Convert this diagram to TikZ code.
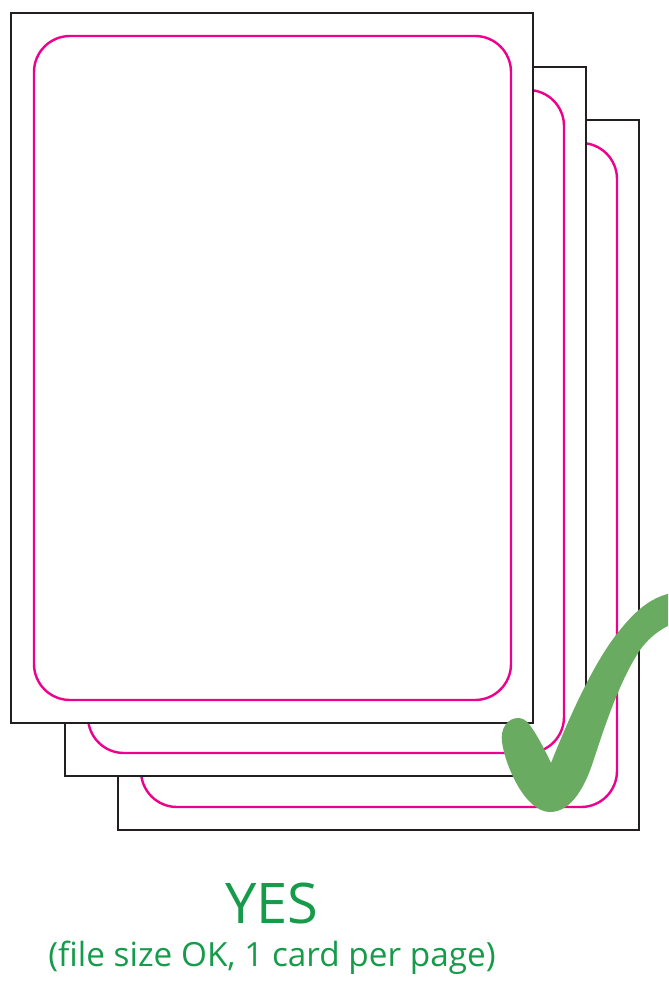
\documentclass[tikz,border=0pt]{standalone}
\usepackage{fontspec}
\setmainfont{Open Sans}
\definecolor{cardblack}{RGB}{35,31,32}
\definecolor{cardpink}{RGB}{236,0,140}
\definecolor{checkgreen}{RGB}{105,172,97}
\definecolor{textgreen}{RGB}{22,155,75}
\begin{document}
\begin{tikzpicture}[x=0.75pt,y=-0.75pt,
  outercard/.style={draw=cardblack,fill=white,line width=1.9pt},
  innercard/.style={draw=cardpink,line width=1.8pt,rounded corners=27pt},
  yestext/.style={text=textgreen,inner sep=0pt,anchor=base}]
\useasboundingbox (0,0) rectangle (668,985);
\begin{scope}
\clip (0,0) rectangle (668,985);
% back card
\draw[outercard] (118,120) rectangle (639,830);
\draw[innercard] (141,143) rectangle (617,807);
% middle card
\draw[outercard] (65,67) rectangle (586,776);
\draw[innercard] (88,90) rectangle (564,753);
% front card
\draw[outercard] (11,13) rectangle (533,723);
\draw[innercard] (34,36) rectangle (511,700);
% check mark
\fill[checkgreen] (518,718) .. controls (508,718) and (500,728) .. (502,742)
  .. controls (505,765) and (525,812) .. (550,812)
  .. controls (572,812) and (585,785) .. (592,765)
  .. controls (605,725) and (620,680) .. (640,650)
  .. controls (650,636) and (665,624) .. (690,618)
  -- (690,592)
  .. controls (660,590) and (640,605) .. (620,630)
  .. controls (595,660) and (570,715) .. (551,763)
  .. controls (545,750) and (536,733) .. (529,724)
  .. controls (526,720) and (522,718) .. (518,718) -- cycle;
\end{scope}
\node[yestext,font=\fontsize{42}{48}\selectfont] (yes) at (272,923) {YES};
\node[yestext,font=\fontsize{25}{29}\selectfont] (note) at (272,966) {(file size OK, 1 card per page)};
\end{tikzpicture}
\end{document}
